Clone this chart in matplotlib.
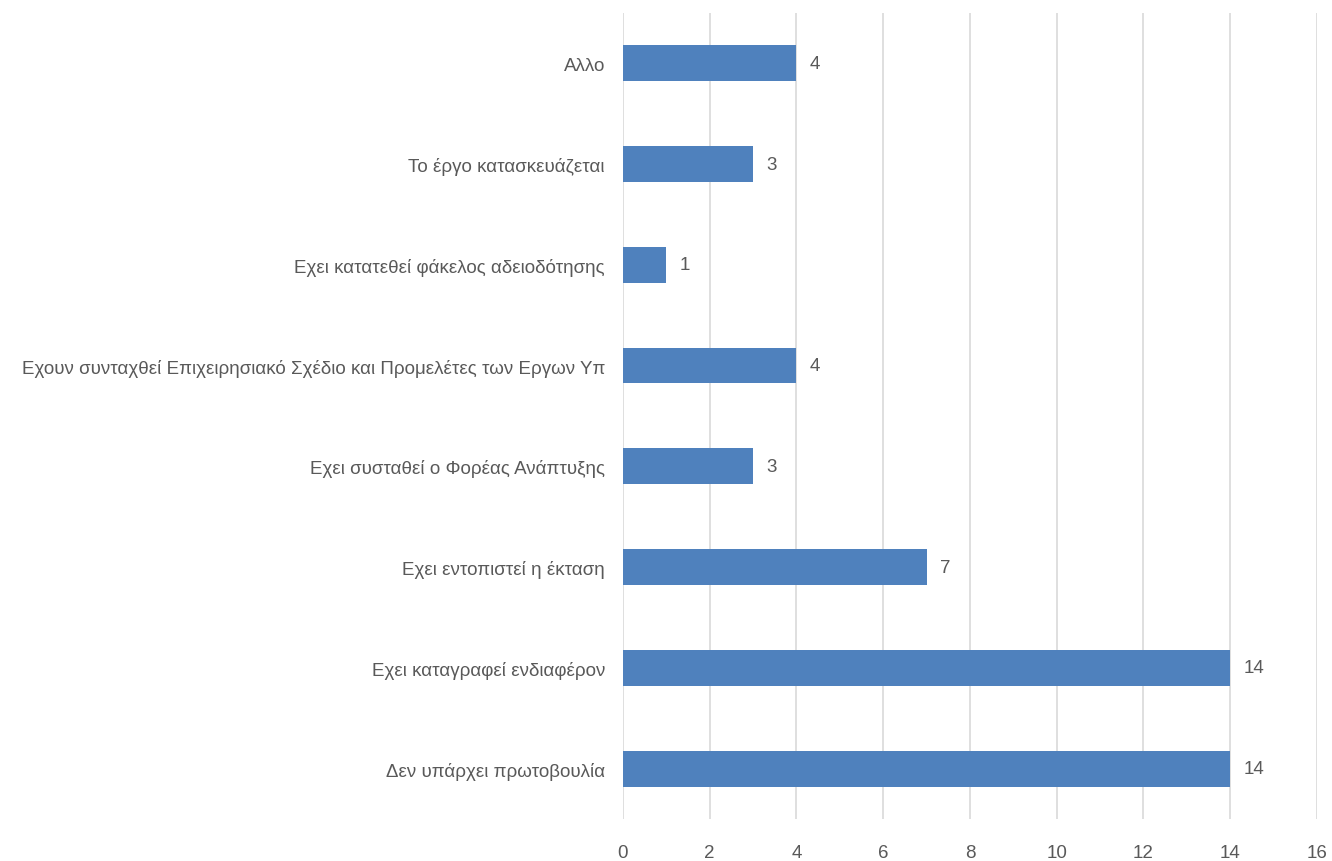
import matplotlib
matplotlib.use("Agg")
import matplotlib.pyplot as plt

categories = [
    "Δεν υπάρχει πρωτοβουλία",
    "Εχει καταγραφεί ενδιαφέρον",
    "Εχει εντοπιστεί η έκταση",
    "Εχει συσταθεί ο Φορέας Ανάπτυξης",
    "Εχουν συνταχθεί Επιχειρησιακό Σχέδιο και Προμελέτες των Εργων Υπ",
    "Εχει κατατεθεί φάκελος αδειοδότησης",
    "Το έργο κατασκευάζεται",
    "Αλλο",
]
values = [14, 14, 7, 3, 4, 1, 3, 4]
xticks = [0, 2, 4, 6, 8, 10, 12, 14, 16]

plt.rcParams['font.family'] = ['Liberation Sans', 'DejaVu Sans']
text_color = "#595959"

fig = plt.figure(figsize=(13.32, 8.62), dpi=100)
ax = fig.add_axes([0.4677, 0.0487, 0.5210, 0.9351])

ypos = range(len(categories))
bars = ax.barh(ypos, values, height=0.355, color="#4F81BD", zorder=3)
for b, v in zip(bars, values):
    ax.text(v + 0.3, b.get_y() + b.get_height() / 2, str(v),
            va="center", ha="left", fontsize=13.5, color=text_color)

ax.set_xlim(0, 16)
ax.set_ylim(-0.5, len(categories) - 0.5)
ax.set_xticks(xticks)
ax.set_yticks(list(ypos))
ax.set_yticklabels(categories)
ax.tick_params(axis="both", length=0, labelsize=13.5, colors=text_color)
ax.tick_params(axis="y", pad=13)
ax.tick_params(axis="x", pad=18)
ax.grid(True, axis="x", color="#D9D9D9", linewidth=1.2, zorder=0)
for s in ax.spines.values():
    s.set_visible(False)

fig.savefig("out.png", dpi=100)
